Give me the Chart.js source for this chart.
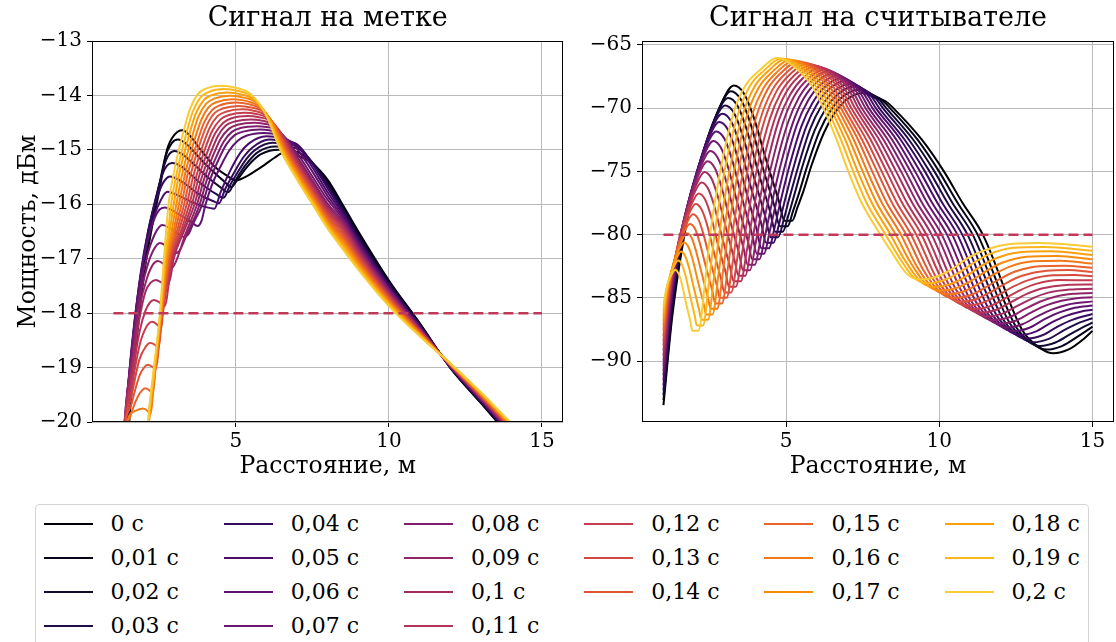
<!DOCTYPE html>
<html>
<head>
<meta charset="utf-8">
<script src="https://cdn.jsdelivr.net/npm/chart.js"></script>
<style>
html,body{margin:0;padding:0;background:#fff;width:1116px;height:642px;overflow:hidden;}
#tagChart{position:absolute;left:0;top:0;}
#readerChart{position:absolute;left:560px;top:0;}
#legend{position:absolute;left:35px;top:504px;width:1054px;height:170px;border:1px solid #d5d5d5;border-radius:4px;box-sizing:border-box;font-family:'DejaVu Serif',serif;font-size:22px;color:#000;}
.item{position:absolute;height:30px;display:flex;align-items:center;white-space:nowrap;}
.item .h{display:inline-block;width:49px;height:2px;}
.item .t{margin-left:18px;line-height:30px;}
</style>
</head>
<body>
<canvas id="tagChart" width="580" height="490"></canvas>
<canvas id="readerChart" width="556" height="490"></canvas>
<div id="legend"></div>
<script>
// ---------- data ----------
const timeLabels = ['0 с','0,01 с','0,02 с','0,03 с','0,04 с','0,05 с','0,06 с','0,07 с','0,08 с','0,09 с','0,1 с','0,11 с','0,12 с','0,13 с','0,14 с','0,15 с','0,16 с','0,17 с','0,18 с','0,19 с','0,2 с'];
const distanceTicks = [5, 10, 15];
const tagPowerTicks = [-20, -19, -18, -17, -16, -15, -14, -13];
const readerPowerTicks = [-90, -85, -80, -75, -70, -65];
const tagThreshold = -18;
const readerThreshold = -80;
const thresholdRange = [1, 15];

// tag signal (left), [distance m, power dBm] per time step
const tagPower = [
[[1,-26],[1.25,-23],[1.5,-20.15],[1.75,-18.55],[2,-17.3],[2.25,-16.45],[2.5,-15.75],[2.75,-15],[3,-14.72],[3.25,-14.64],[3.5,-14.74],[3.77,-14.94],[4.04,-15.13],[4.31,-15.31],[4.7,-15.47],[5,-15.56],[5.3,-15.5],[5.6,-15.4],[5.95,-15.27],[6.25,-15.15],[6.55,-15.06],[7,-15.1],[7.5,-15.25],[8,-15.55],[8.5,-16.02],[9,-16.5],[10,-17.4],[11,-18.18],[12,-19],[13,-19.65],[14,-20.3],[15,-20.95]],
[[1,-26],[1.2,-23.2],[1.45,-20.1],[1.7,-18.5],[1.95,-17.3],[2.2,-16.45],[2.45,-15.8],[2.7,-15.12],[2.9,-14.88],[3.11,-14.81],[3.4,-14.9],[3.7,-15.08],[4,-15.26],[4.3,-15.42],[4.6,-15.57],[4.85,-15.68],[5.05,-15.55],[5.3,-15.36],[5.55,-15.2],[5.82,-15.08],[6.4,-15],[7,-15.04],[7.5,-15.24],[8,-15.58],[8.5,-16.05],[9,-16.54],[10,-17.42],[11,-18.19],[12,-19],[13,-19.64],[14,-20.29],[15,-20.93]],
[[1,-26],[1.2,-23],[1.42,-20.1],[1.67,-18.5],[1.92,-17.3],[2.17,-16.45],[2.42,-15.82],[2.65,-15.3],[2.82,-15.08],[3,-15.02],[3.3,-15.1],[3.6,-15.25],[3.9,-15.41],[4.2,-15.56],[4.5,-15.69],[4.75,-15.78],[4.95,-15.6],[5.14,-15.42],[5.43,-15.2],[5.72,-15.04],[6.3,-14.94],[7,-14.97],[7.5,-15.23],[8,-15.62],[8.5,-16.08],[9,-16.57],[10,-17.45],[11,-18.2],[12,-18.99],[13,-19.63],[14,-20.27],[15,-20.91]],
[[1,-26],[1.2,-22.8],[1.4,-20.1],[1.65,-18.5],[1.9,-17.3],[2.15,-16.45],[2.4,-15.85],[2.6,-15.45],[2.75,-15.29],[2.92,-15.24],[3.2,-15.3],[3.5,-15.44],[3.8,-15.59],[4.1,-15.72],[4.35,-15.81],[4.6,-15.88],[4.8,-15.66],[5.05,-15.42],[5.34,-15.17],[5.63,-15],[6.2,-14.87],[6.7,-14.9],[7,-14.93],[7.5,-15.24],[8,-15.66],[8.5,-16.11],[9,-16.61],[10,-17.47],[11,-18.22],[12,-18.99],[13,-19.62],[14,-20.26],[15,-20.89]],
[[1,-26],[1.2,-22.7],[1.4,-20.05],[1.63,-18.5],[1.88,-17.3],[2.13,-16.5],[2.38,-15.95],[2.58,-15.65],[2.72,-15.53],[2.85,-15.49],[3.1,-15.54],[3.4,-15.65],[3.7,-15.78],[4,-15.88],[4.25,-15.94],[4.45,-15.98],[4.65,-15.72],[4.96,-15.4],[5.24,-15.14],[5.53,-14.96],[6.1,-14.81],[6.6,-14.85],[7,-14.9],[7.5,-15.26],[8,-15.71],[8.5,-16.15],[9,-16.64],[10,-17.49],[11,-18.23],[12,-18.98],[13,-19.61],[14,-20.24],[15,-20.87]],
[[1,-26],[1.2,-22.6],[1.4,-20],[1.62,-18.55],[1.87,-17.4],[2.12,-16.65],[2.37,-16.15],[2.57,-15.9],[2.68,-15.8],[2.78,-15.77],[3.05,-15.82],[3.35,-15.9],[3.65,-15.98],[3.95,-16.04],[4.3,-16.08],[4.5,-15.78],[4.8,-15.4],[5.15,-15.05],[5.43,-14.88],[6,-14.75],[6.5,-14.79],[7,-14.92],[7.5,-15.32],[8,-15.78],[8.5,-16.19],[9,-16.68],[10,-17.52],[11,-18.24],[12,-18.98],[13,-19.6],[14,-20.23],[15,-20.85]],
[[1,-26],[1.2,-22.5],[1.38,-20.1],[1.6,-18.6],[1.85,-17.45],[2.1,-16.7],[2.35,-16.25],[2.5,-16.1],[2.68,-16.06],[2.95,-16.12],[3.25,-16.22],[3.55,-16.33],[3.75,-16.4],[3.88,-16.3],[4,-16.02],[4.215,-15.646],[4.5,-15.305],[4.78,-15.016],[5.06,-14.832],[5.34,-14.74],[5.9,-14.688],[6.4,-14.73],[6.75,-14.84],[7,-14.98],[7.5,-15.4],[8,-15.85],[8.5,-16.23],[9,-16.71],[10,-17.54],[11,-18.25],[12,-18.98],[13,-19.59],[14,-20.22],[15,-20.83]],
[[1,-26],[1.2,-22.4],[1.37,-20.1],[1.6,-18.7],[1.85,-17.6],[2.1,-16.95],[2.35,-16.55],[2.6,-16.38],[2.85,-16.44],[3.1,-16.54],[3.3,-16.6],[3.45,-16.55],[3.6,-16.36],[3.905,-16],[4.13,-15.59],[4.41,-15.21],[4.69,-14.9],[4.96,-14.73],[5.24,-14.665],[5.8,-14.626],[6.08,-14.64],[6.36,-14.68],[6.65,-14.8],[6.9,-15],[7,-15.06],[7.5,-15.49],[8,-15.92],[8.5,-16.27],[9,-16.75],[10,-17.56],[11,-18.26],[12,-18.97],[13,-19.58],[14,-20.2],[15,-20.81]],
[[1,-26],[1.2,-22.3],[1.36,-20.1],[1.6,-18.8],[1.85,-17.75],[2.1,-17.15],[2.3,-16.85],[2.52,-16.71],[2.77,-16.79],[3,-16.9],[3.15,-16.86],[3.4,-16.55],[3.82,-16],[4.04,-15.57],[4.32,-15.18],[4.6,-14.85],[4.87,-14.67],[5.15,-14.6],[5.7,-14.564],[6,-14.58],[6.3,-14.62],[6.6,-14.77],[6.87,-15],[7,-15.12],[7.5,-15.56],[8,-15.99],[8.5,-16.31],[9,-16.78],[10,-17.59],[11,-18.28],[12,-18.97],[13,-19.57],[14,-20.19],[15,-20.79]],
[[1,-26],[1.2,-22.2],[1.35,-20.1],[1.6,-18.9],[1.85,-17.9],[2.1,-17.35],[2.3,-17.1],[2.45,-17.04],[2.7,-17.12],[2.88,-17.18],[3.02,-17.08],[3.35,-16.55],[3.735,-16],[3.955,-15.55],[4.23,-15.14],[4.5,-14.8],[4.78,-14.61],[5.05,-14.54],[5.6,-14.5],[5.92,-14.52],[6.23,-14.57],[6.55,-14.74],[6.835,-15],[7,-15.165],[7.5,-15.6],[8,-16.03],[8.5,-16.35],[9,-16.82],[10,-17.61],[11,-18.29],[12,-18.96],[13,-19.56],[14,-20.17],[15,-20.77]],
[[1,-26],[1.2,-22.1],[1.35,-20.15],[1.6,-19.05],[1.85,-18.1],[2.05,-17.6],[2.2,-17.45],[2.38,-17.39],[2.6,-17.45],[2.76,-17.5],[2.86,-17.35],[2.97,-17],[3.3,-16.5],[3.65,-16],[3.87,-15.535],[4.14,-15.11],[4.41,-14.75],[4.68,-14.55],[4.96,-14.48],[5.5,-14.44],[5.83,-14.46],[6.16,-14.52],[6.5,-14.71],[6.8,-15],[7,-15.2],[7.5,-15.64],[8,-16.07],[8.5,-16.39],[9,-16.85],[10,-17.64],[11,-18.3],[12,-18.96],[13,-19.55],[14,-20.16],[15,-20.75]],
[[1,-26],[1.2,-22],[1.34,-20.2],[1.6,-19.2],[1.85,-18.35],[2.05,-17.95],[2.2,-17.8],[2.32,-17.76],[2.5,-17.8],[2.67,-17.87],[2.92,-17],[3.25,-16.5],[3.565,-16],[3.78,-15.52],[4.05,-15.07],[4.32,-14.7],[4.59,-14.5],[4.86,-14.42],[5.4,-14.378],[5.75,-14.4],[6.1,-14.46],[6.45,-14.67],[6.765,-15],[7,-15.235],[7.5,-15.68],[8,-16.11],[8.5,-16.43],[9,-16.89],[10,-17.66],[11,-18.31],[12,-18.96],[13,-19.54],[14,-20.15],[15,-20.73]],
[[1,-26],[1.2,-21.9],[1.33,-20.25],[1.6,-19.35],[1.85,-18.6],[2.05,-18.28],[2.27,-18.16],[2.45,-18.22],[2.56,-18.27],[2.616,-18],[2.89,-17],[3.2,-16.5],[3.48,-16],[3.7,-15.5],[3.96,-15.035],[4.23,-14.65],[4.5,-14.44],[4.77,-14.36],[5.3,-14.316],[5.67,-14.34],[6.03,-14.41],[6.4,-14.64],[6.73,-15],[7,-15.27],[7.5,-15.71],[8,-16.15],[8.5,-16.47],[9,-16.92],[10,-17.68],[11,-18.32],[12,-18.95],[13,-19.53],[14,-20.13],[15,-20.71]],
[[1,-26],[1.2,-21.8],[1.33,-20.3],[1.6,-19.5],[1.85,-18.85],[2.05,-18.62],[2.2,-18.55],[2.35,-18.58],[2.47,-18.65],[2.604,-18],[2.86,-17],[3.13,-16.5],[3.395,-16],[3.61,-15.48],[3.87,-15],[4.14,-14.6],[4.4,-14.38],[4.67,-14.3],[5.2,-14.254],[5.58,-14.28],[5.96,-14.355],[6.35,-14.61],[6.695,-15],[7,-15.3],[7.5,-15.75],[8,-16.19],[8.5,-16.52],[9,-16.96],[10,-17.71],[11,-18.34],[12,-18.95],[13,-19.52],[14,-20.12],[15,-20.69]],
[[1,-26],[1.2,-21.7],[1.32,-20.35],[1.6,-19.65],[1.85,-19.15],[2,-19],[2.13,-18.95],[2.28,-18.99],[2.37,-19.03],[2.592,-18],[2.83,-17],[3.07,-16.5],[3.31,-16],[3.52,-15.46],[3.78,-14.96],[4.05,-14.55],[4.31,-14.32],[4.57,-14.24],[5.1,-14.192],[5.5,-14.22],[5.9,-14.3],[6.3,-14.58],[6.66,-15],[7,-15.34],[7.5,-15.79],[8,-16.23],[8.5,-16.57],[9,-16.99],[10,-17.73],[11,-18.35],[12,-18.94],[13,-19.51],[14,-20.1],[15,-20.67]],
[[1,-26],[1.2,-21.6],[1.32,-20.4],[1.55,-19.9],[1.8,-19.53],[2.05,-19.38],[2.2,-19.43],[2.28,-19.48],[2.38,-19],[2.58,-18],[2.8,-17],[3.01,-16.5],[3.225,-16],[3.43,-15.44],[3.7,-14.93],[3.96,-14.5],[4.22,-14.27],[4.48,-14.18],[5,-14.13],[5.42,-14.16],[5.83,-14.25],[6.25,-14.54],[6.625,-15],[7,-15.375],[7.5,-15.82],[8,-16.27],[8.5,-16.62],[9,-17.03],[10,-17.75],[11,-18.36],[12,-18.94],[13,-19.5],[14,-20.09],[15,-20.65]],
[[1,-26],[1.2,-21.6],[1.45,-20],[1.7,-19.8],[1.97,-19.75],[2.12,-19.8],[2.2,-19.86],[2.37,-19],[2.568,-18],[2.77,-17],[2.96,-16.5],[3.14,-16],[3.35,-15.42],[3.61,-14.89],[3.87,-14.45],[4.12,-14.21],[4.38,-14.12],[4.9,-14.068],[5.33,-14.1],[5.76,-14.2],[6.2,-14.51],[6.59,-15],[7,-15.41],[7.5,-15.86],[8,-16.31],[8.5,-16.66],[9,-17.06],[10,-17.78],[11,-18.37],[12,-18.94],[13,-19.49],[14,-20.08],[15,-20.63]],
[[1,-26],[1.3,-21.8],[1.6,-20.5],[1.9,-20.2],[2.1,-20.3],[2.16,-20],[2.36,-19],[2.556,-18],[2.74,-17],[2.9,-16.5],[3.055,-16],[3.26,-15.41],[3.52,-14.86],[3.77,-14.4],[4.03,-14.15],[4.29,-14.06],[4.8,-14.006],[5.25,-14.04],[5.7,-14.14],[6.15,-14.48],[6.555,-15],[7,-15.445],[7.5,-15.89],[8,-16.34],[8.5,-16.7],[9,-17.1],[10,-17.8],[11,-18.38],[12,-18.93],[13,-19.48],[14,-20.06],[15,-20.61]],
[[1,-26],[1.4,-22],[1.6,-20.8],[1.85,-20.55],[2.05,-20.6],[2.15,-20],[2.35,-19],[2.544,-18],[2.71,-17],[2.84,-16.5],[2.97,-16],[3.17,-15.39],[3.43,-14.82],[3.68,-14.35],[3.94,-14.09],[4.19,-14],[4.7,-13.944],[5.17,-13.98],[5.63,-14.09],[6.1,-14.45],[6.52,-15],[7,-15.48],[7.5,-15.93],[8,-16.38],[8.5,-16.74],[9,-17.13],[10,-17.82],[11,-18.4],[12,-18.93],[13,-19.47],[14,-20.05],[15,-20.59]],
[[1,-26],[1.5,-22],[1.8,-21],[2.03,-21],[2.14,-20],[2.34,-19],[2.532,-18],[2.68,-17],[2.79,-16.5],[2.885,-16],[3.09,-15.37],[3.34,-14.79],[3.59,-14.3],[3.84,-14.04],[4.1,-13.94],[4.6,-13.882],[5.08,-13.92],[5.56,-14.03],[6.05,-14.41],[6.485,-15],[7,-15.515],[7.5,-15.96],[8,-16.41],[8.5,-16.79],[9,-17.17],[10,-17.85],[11,-18.41],[12,-18.92],[13,-19.46],[14,-20.03],[15,-20.57]],
[[1,-26],[1.75,-21.6],[2,-21.2],[2.13,-20],[2.3,-19.1],[2.52,-18],[2.65,-17],[2.8,-16],[3,-15.35],[3.25,-14.75],[3.5,-14.25],[3.75,-13.98],[4,-13.88],[4.5,-13.82],[5,-13.86],[5.49,-13.98],[6,-14.38],[6.45,-15],[7,-15.55],[7.5,-16],[8,-16.45],[8.5,-16.83],[9,-17.2],[10,-17.87],[11,-18.42],[12,-18.92],[13,-19.45],[14,-20.02],[15,-20.55]]
];

// reader signal (right), [distance m, power dBm] per time step
const readerPower = [
[[1,-93.46],[1.29,-86.39],[1.6,-81.19],[1.93,-77],[2.36,-73.27],[2.79,-70.19],[3.3,-68.22],[3.63,-68.86],[3.94,-70.7],[4.35,-74.09],[4.76,-77.3],[4.95,-78.9],[5.2,-78.9],[5.38,-77.79],[5.55,-76.68],[5.84,-74.46],[6.24,-71.93],[6.58,-70.42],[6.99,-69.3],[7.5,-68.8],[7.9,-69.18],[8.25,-69.46],[8.5,-70],[9.43,-72.5],[10.15,-75],[10.76,-77.5],[11.42,-80],[12.72,-87.6],[13.27,-88.92],[13.72,-89.37],[14.22,-89.07],[14.72,-88.22],[15,-87.6]],
[[1,-93.07],[1.28,-86.24],[1.57,-81.21],[1.89,-77.16],[2.3,-73.55],[2.72,-70.57],[3.2,-68.67],[3.52,-69.31],[3.83,-71.15],[4.22,-74.54],[4.62,-77.74],[4.8,-79.34],[5.05,-79.34],[5.23,-78.12],[5.4,-76.9],[5.7,-74.51],[6.09,-71.84],[6.44,-70.24],[6.85,-69.09],[7.36,-68.55],[7.76,-68.93],[8.13,-69.35],[8.39,-70],[9.29,-72.5],[9.99,-75],[10.6,-77.5],[11.25,-80],[12.5,-87.28],[13.05,-88.63],[13.5,-89.08],[14,-88.8],[14.5,-88.08],[15,-87.27]],
[[1,-92.68],[1.27,-86.11],[1.55,-81.27],[1.85,-77.37],[2.24,-73.9],[2.64,-71.03],[3.11,-69.2],[3.42,-69.83],[3.71,-71.65],[4.09,-75.01],[4.48,-78.18],[4.65,-79.77],[4.89,-79.77],[5.08,-78.44],[5.24,-77.1],[5.54,-74.55],[5.94,-71.73],[6.29,-70.07],[6.71,-68.87],[7.22,-68.3],[7.62,-68.68],[8.01,-69.24],[8.27,-70],[9.15,-72.5],[9.84,-75],[10.43,-77.5],[11.09,-80],[12.29,-86.96],[12.84,-88.34],[13.29,-88.79],[13.79,-88.52],[14.29,-87.84],[14.79,-87.19],[15,-86.94]],
[[1,-92.29],[1.25,-85.99],[1.52,-81.36],[1.81,-77.63],[2.19,-74.3],[2.57,-71.55],[3.01,-69.8],[3.31,-70.42],[3.59,-72.21],[3.96,-75.52],[4.33,-78.64],[4.5,-80.2],[4.74,-80.2],[4.93,-78.76],[5.09,-77.29],[5.4,-74.59],[5.79,-71.63],[6.14,-69.9],[6.57,-68.67],[7.08,-68.07],[7.48,-68.45],[7.89,-69.13],[8.16,-70],[9.01,-72.5],[9.68,-75],[10.27,-77.5],[10.92,-80],[12.07,-86.64],[12.62,-88.05],[13.07,-88.5],[13.57,-88.23],[14.07,-87.55],[14.57,-86.95],[15,-86.6]],
[[1,-91.9],[1.24,-85.89],[1.5,-81.48],[1.77,-77.91],[2.13,-74.74],[2.49,-72.12],[2.92,-70.45],[3.21,-71.06],[3.48,-72.81],[3.83,-76.05],[4.19,-79.11],[4.35,-80.64],[4.59,-80.64],[4.78,-79.08],[4.94,-77.49],[5.25,-74.63],[5.65,-71.53],[6,-69.74],[6.42,-68.48],[6.94,-67.85],[7.34,-68.23],[7.77,-69.03],[8.04,-70],[8.87,-72.5],[9.53,-75],[10.1,-77.5],[10.75,-80],[11.86,-86.32],[12.41,-87.76],[12.86,-88.21],[13.36,-87.95],[13.86,-87.26],[14.36,-86.71],[15,-86.27]],
[[1,-91.51],[1.23,-85.8],[1.47,-81.59],[1.74,-78.2],[2.07,-75.18],[2.42,-72.69],[2.82,-71.1],[3.1,-71.7],[3.36,-73.42],[3.7,-76.59],[4.04,-79.58],[4.2,-81.08],[4.44,-81.08],[4.63,-79.4],[4.79,-77.69],[5.1,-74.66],[5.5,-71.44],[5.86,-69.59],[6.28,-68.29],[6.8,-67.64],[7.2,-68.02],[7.65,-68.94],[7.93,-70],[8.74,-72.5],[9.37,-75],[9.94,-77.5],[10.59,-80],[11.64,-86],[12.19,-87.47],[12.64,-87.92],[13.14,-87.66],[13.64,-86.97],[14.14,-86.42],[14.64,-86.07],[15,-85.94]],
[[1,-91.12],[1.22,-85.72],[1.45,-81.75],[1.7,-78.55],[2.02,-75.7],[2.34,-73.34],[2.72,-71.84],[2.99,-72.42],[3.24,-74.08],[3.57,-77.16],[3.9,-80.06],[4.05,-81.51],[4.28,-81.51],[4.47,-79.71],[4.64,-77.87],[4.95,-74.69],[5.35,-71.34],[5.71,-69.44],[6.14,-68.12],[6.66,-67.44],[7.06,-67.82],[7.53,-68.85],[7.82,-70],[8.6,-72.5],[9.21,-75],[9.77,-77.5],[10.42,-80],[11.42,-85.68],[11.97,-87.17],[12.42,-87.62],[12.92,-87.37],[13.42,-86.7],[13.92,-86.14],[14.42,-85.77],[15,-85.6]],
[[1,-90.73],[1.21,-85.65],[1.42,-81.92],[1.66,-78.91],[1.96,-76.23],[2.27,-74.01],[2.63,-72.6],[2.88,-73.16],[3.12,-74.77],[3.44,-77.74],[3.76,-80.55],[3.9,-81.95],[4.13,-81.95],[4.32,-80.03],[4.49,-78.05],[4.8,-74.72],[5.21,-71.25],[5.56,-69.3],[5.99,-67.97],[6.52,-67.26],[6.92,-67.64],[7.41,-68.77],[7.7,-70],[8.46,-72.5],[9.06,-75],[9.61,-77.5],[10.25,-80],[11.21,-85.36],[11.76,-86.88],[12.21,-87.33],[12.71,-87.08],[13.21,-86.43],[13.71,-85.88],[14.21,-85.51],[15,-85.27]],
[[1,-90.34],[1.19,-85.59],[1.4,-82.1],[1.62,-79.29],[1.9,-76.78],[2.2,-74.71],[2.53,-73.39],[2.77,-73.93],[3.01,-75.48],[3.31,-78.33],[3.61,-81.03],[3.75,-82.38],[3.98,-82.38],[4.17,-80.33],[4.34,-78.22],[4.65,-74.73],[5.06,-71.16],[5.42,-69.17],[5.85,-67.82],[6.38,-67.09],[6.78,-67.47],[7.29,-68.69],[7.59,-70],[8.32,-72.5],[8.9,-75],[9.44,-77.5],[10.08,-80],[10.99,-85.04],[11.54,-86.59],[11.99,-87.04],[12.49,-86.8],[12.99,-86.16],[13.49,-85.59],[13.99,-85.22],[14.49,-85.02],[15,-84.94]],
[[1,-89.95],[1.18,-85.54],[1.37,-82.3],[1.58,-79.68],[1.85,-77.35],[2.12,-75.43],[2.44,-74.2],[2.67,-74.72],[2.89,-76.2],[3.18,-78.94],[3.47,-81.53],[3.6,-82.82],[3.82,-82.82],[4.01,-80.64],[4.18,-78.4],[4.5,-74.76],[4.91,-71.08],[5.27,-69.05],[5.71,-67.7],[6.24,-66.94],[6.64,-67.32],[7.16,-68.62],[7.47,-70],[8.18,-72.5],[8.75,-75],[9.28,-77.5],[9.92,-80],[10.78,-84.72],[11.33,-86.3],[11.78,-86.75],[12.28,-86.52],[12.78,-85.89],[13.28,-85.3],[13.78,-84.9],[14.38,-84.67],[15,-84.61]],
[[1,-89.56],[1.17,-85.49],[1.35,-82.5],[1.54,-80.09],[1.79,-77.94],[2.05,-76.17],[2.34,-75.04],[2.56,-75.53],[2.77,-76.94],[3.05,-79.56],[3.32,-82.02],[3.45,-83.25],[3.67,-83.25],[3.86,-80.95],[4.04,-78.56],[4.35,-74.78],[4.76,-70.99],[5.13,-68.94],[5.57,-67.58],[6.1,-66.8],[6.5,-67.18],[7.05,-68.56],[7.36,-70],[8.04,-72.5],[8.59,-75],[9.12,-77.5],[9.75,-80],[10.56,-84.4],[11.11,-86.01],[11.56,-86.46],[12.06,-86.24],[12.56,-85.61],[13.06,-85.01],[13.56,-84.58],[14.26,-84.34],[15,-84.28]],
[[1,-89.17],[1.16,-85.45],[1.32,-82.71],[1.5,-80.5],[1.73,-78.53],[1.97,-76.91],[2.24,-75.87],[2.45,-76.34],[2.65,-77.68],[2.91,-80.17],[3.17,-82.52],[3.29,-83.69],[3.52,-83.69],[3.72,-81.26],[3.89,-78.73],[4.2,-74.8],[4.62,-70.92],[4.98,-68.84],[5.42,-67.48],[5.96,-66.68],[6.36,-67.06],[6.92,-68.51],[7.25,-70],[7.9,-72.5],[8.43,-75],[8.95,-77.5],[9.58,-80],[10.34,-84.08],[10.89,-85.72],[11.34,-86.17],[11.84,-85.95],[12.34,-85.33],[12.84,-84.7],[13.34,-84.25],[14.14,-83.97],[15,-83.94]],
[[1,-88.77],[1.14,-85.4],[1.3,-82.92],[1.46,-80.93],[1.68,-79.15],[1.9,-77.68],[2.15,-76.74],[2.35,-77.18],[2.54,-78.45],[2.78,-80.8],[3.03,-83.01],[3.14,-84.12],[3.36,-84.12],[3.56,-81.56],[3.73,-78.89],[4.05,-74.82],[4.47,-70.85],[4.84,-68.75],[5.28,-67.39],[5.82,-66.57],[6.22,-66.95],[6.8,-68.46],[7.13,-70],[7.76,-72.5],[8.28,-75],[8.79,-77.5],[9.42,-80],[10.13,-83.76],[10.68,-85.43],[11.13,-85.88],[11.63,-85.67],[12.13,-85.06],[12.63,-84.4],[13.13,-83.91],[13.93,-83.58],[15,-83.61]],
[[1,-88.38],[1.13,-85.36],[1.27,-83.13],[1.43,-81.34],[1.62,-79.74],[1.82,-78.42],[2.05,-77.58],[2.24,-78],[2.42,-79.2],[2.65,-81.42],[2.88,-83.51],[2.99,-84.56],[3.21,-84.56],[3.41,-81.86],[3.58,-79.05],[3.9,-74.84],[4.32,-70.78],[4.69,-68.66],[5.14,-67.31],[5.68,-66.47],[6.08,-66.85],[6.69,-68.41],[7.02,-70],[7.62,-72.5],[8.12,-75],[8.62,-77.5],[9.25,-80],[9.91,-83.44],[10.46,-85.14],[10.91,-85.59],[11.41,-85.38],[11.91,-84.79],[12.41,-84.11],[12.91,-83.59],[13.71,-83.21],[14.41,-83.19],[15,-83.28]],
[[1,-87.99],[1.12,-85.3],[1.25,-83.32],[1.39,-81.73],[1.56,-80.31],[1.75,-79.14],[1.96,-78.39],[2.14,-78.79],[2.3,-79.92],[2.52,-82.02],[2.74,-84],[2.84,-84.99],[3.06,-84.99],[3.26,-82.16],[3.43,-79.21],[3.75,-74.85],[4.18,-70.72],[4.55,-68.58],[4.99,-67.25],[5.54,-66.39],[5.94,-66.77],[6.56,-68.38],[6.9,-70],[7.48,-72.5],[7.97,-75],[8.46,-77.5],[9.08,-80],[9.7,-83.12],[10.25,-84.85],[10.7,-85.3],[11.2,-85.1],[11.7,-84.5],[12.2,-83.8],[12.7,-83.25],[13.5,-82.85],[14.2,-82.8],[15,-82.95]],
[[1,-87.6],[1.11,-85.23],[1.22,-83.49],[1.35,-82.09],[1.51,-80.84],[1.67,-79.81],[1.86,-79.15],[2.03,-79.53],[2.18,-80.61],[2.39,-82.6],[2.6,-84.49],[2.69,-85.43],[2.91,-85.43],[3.11,-82.47],[3.28,-79.36],[3.61,-74.87],[4.03,-70.66],[4.4,-68.51],[4.85,-67.19],[5.4,-66.31],[5.8,-66.69],[6.44,-68.34],[6.79,-70],[7.35,-72.5],[7.81,-75],[8.29,-77.5],[8.92,-80],[9.48,-82.8],[10.03,-84.56],[10.48,-85.01],[10.98,-84.81],[11.48,-84.21],[11.98,-83.49],[12.48,-82.91],[13.28,-82.49],[14.08,-82.45],[15,-82.62]],
[[1,-87.21],[1.1,-85.16],[1.2,-83.65],[1.31,-82.43],[1.45,-81.35],[1.6,-80.45],[1.76,-79.88],[1.92,-80.24],[2.06,-81.27],[2.26,-83.17],[2.45,-84.96],[2.54,-85.86],[2.75,-85.86],[2.95,-82.76],[3.13,-79.5],[3.45,-74.87],[3.88,-70.6],[4.26,-68.44],[4.71,-67.14],[5.26,-66.24],[5.66,-66.62],[6.33,-68.31],[6.68,-70],[7.21,-72.5],[7.65,-75],[8.13,-77.5],[8.75,-80],[9.26,-82.48],[9.81,-84.26],[10.26,-84.71],[10.76,-84.51],[11.26,-83.91],[11.76,-83.16],[12.26,-82.56],[13.06,-82.11],[13.96,-82.06],[15,-82.28]],
[[1,-86.82],[1.08,-85.08],[1.17,-83.81],[1.27,-82.78],[1.39,-81.86],[1.52,-81.1],[1.67,-80.62],[1.81,-80.96],[1.95,-81.94],[2.13,-83.74],[2.31,-85.45],[2.39,-86.3],[2.6,-86.3],[2.8,-83.06],[2.98,-79.65],[3.31,-74.88],[3.73,-70.54],[4.11,-68.37],[4.57,-67.1],[5.12,-66.18],[5.52,-66.56],[6.2,-68.28],[6.56,-70],[7.07,-72.5],[7.5,-75],[7.96,-77.5],[8.58,-80],[9.05,-82.16],[9.6,-83.97],[10.05,-84.42],[10.55,-84.22],[11.05,-83.64],[11.55,-82.84],[12.05,-82.22],[12.85,-81.74],[13.85,-81.68],[15,-81.95]],
[[1,-86.43],[1.07,-85],[1.15,-83.95],[1.23,-83.1],[1.34,-82.35],[1.45,-81.73],[1.57,-81.33],[1.7,-81.65],[1.83,-82.58],[2,-84.3],[2.16,-85.92],[2.24,-86.73],[2.45,-86.73],[2.65,-83.35],[2.83,-79.79],[3.16,-74.88],[3.59,-70.48],[3.97,-68.31],[4.42,-67.07],[4.98,-66.13],[5.38,-66.51],[6.08,-68.26],[6.45,-70],[6.93,-72.5],[7.34,-75],[7.8,-77.5],[8.41,-80],[8.83,-81.84],[9.38,-83.68],[9.83,-84.13],[10.33,-83.93],[10.83,-83.35],[11.33,-82.53],[11.83,-81.88],[12.63,-81.38],[13.63,-81.31],[15,-81.61]],
[[1,-86.04],[1.06,-84.92],[1.12,-84.1],[1.19,-83.43],[1.28,-82.84],[1.37,-82.35],[1.48,-82.04],[1.6,-82.35],[1.72,-83.23],[1.87,-84.86],[2.02,-86.4],[2.09,-87.17],[2.29,-87.17],[2.49,-83.65],[2.67,-79.93],[3,-74.89],[3.44,-70.42],[3.82,-68.26],[4.28,-67.04],[4.84,-66.09],[5.24,-66.47],[5.96,-68.24],[6.33,-70],[6.79,-72.5],[7.19,-75],[7.63,-77.5],[8.25,-80],[8.62,-81.52],[9.17,-83.39],[9.62,-83.84],[10.12,-83.62],[10.62,-83.04],[11.12,-82.22],[11.62,-81.56],[12.42,-81.04],[13.42,-80.97],[15,-81.28]],
[[1,-85.65],[1.05,-84.84],[1.1,-84.25],[1.15,-83.77],[1.22,-83.35],[1.3,-82.99],[1.38,-82.77],[1.49,-83.06],[1.6,-83.89],[1.74,-85.43],[1.88,-86.88],[1.94,-87.6],[2.14,-87.6],[2.35,-83.94],[2.52,-80.06],[2.86,-74.89],[3.29,-70.36],[3.68,-68.2],[4.14,-67.02],[4.7,-66.05],[5.1,-66.43],[5.84,-68.22],[6.22,-70],[6.65,-72.5],[7.03,-75],[7.47,-77.5],[8.08,-80],[8.4,-81.2],[8.95,-83.1],[9.4,-83.55],[9.9,-83.33],[10.4,-82.75],[10.9,-81.9],[11.4,-81.3],[12.2,-80.77],[13.2,-80.65],[14.2,-80.77],[15,-80.95]]
];

// ---------- styles ----------
const seriesColors = ['#000004','#050418','#120a31','#210b4a','#350b5e','#4a0c6a','#5c126e','#6d186e','#7f1e6c','#912568','#a32c61','#b43458','#c43c4e','#d24843','#e05537','#e9632b','#f37819','#f88a0c','#fb9f0a','#fbb61c','#f8cc36'];
const thresholdColor = '#c0385a';
const FONT = "'DejaVu Serif', serif";
Chart.defaults.font.family = FONT;
Chart.defaults.color = '#000';

const framePlugin = {
  id: 'frame',
  afterDatasetsDraw(chart) {
    const {ctx, chartArea: a} = chart;
    const l = Math.round(a.left), t = Math.round(a.top), r = Math.round(a.right), b = Math.round(a.bottom);
    ctx.save();
    ctx.strokeStyle = '#000';
    ctx.lineWidth = 1;
    ctx.strokeRect(l + 0.5, t + 0.5, r - l - 1, b - t - 1);
    ctx.restore();
  }
};

function minusLabel(v) { return v < 0 ? '\u2212' + Math.abs(v) : String(v); }

function buildChart(id, series, threshold, yMin, yMax, yTicks, titleText, yTitle, yWidth, padRight) {
  const datasets = series.map((pts, k) => ({
    label: timeLabels[k],
    data: pts.map(p => ({x: p[0], y: p[1]})),
    borderColor: seriesColors[k],
    borderWidth: 2,
    pointRadius: 0,
    fill: false,
    cubicInterpolationMode: 'monotone',
    clip: 0,
    order: series.length - k
  }));
  datasets.push({
    label: 'threshold',
    data: thresholdRange.map(x => ({x: x, y: threshold})),
    borderColor: thresholdColor,
    borderWidth: 2.5,
    borderDash: [10, 5],
    pointRadius: 0,
    fill: false,
    clip: 0,
    order: 0
  });
  const gridOpts = {color: '#b9b9b9', lineWidth: 1, tickLength: 5, tickColor: '#000', tickWidth: 1};
  return new Chart(document.getElementById(id), {
    type: 'line',
    data: {datasets},
    options: {
      responsive: false,
      animation: false,
      devicePixelRatio: 1,
      events: [],
      layout: {padding: {left: 0, right: padRight, top: 0, bottom: 0}},
      elements: {line: {capBezierPoints: false}},
      plugins: {
        legend: {display: false},
        tooltip: {enabled: false},
        title: {display: true, text: titleText, fullSize: false, color: '#000',
                font: {family: FONT, size: 27, weight: 'normal'}, padding: {top: 3, bottom: 5.6}}
      },
      scales: {
        x: {
          type: 'linear', min: 0.3, max: 15.7,
          afterBuildTicks: s => { s.ticks = distanceTicks.map(v => ({value: v})); },
          afterFit: s => { s.height = 68; },
          ticks: {font: {size: 20}, color: '#000', padding: 3, maxRotation: 0, autoSkip: false},
          grid: gridOpts,
          border: {display: false},
          title: {display: true, text: 'Расстояние, м', color: '#000', font: {size: 23.5}, padding: {top: 0, bottom: 9}}
        },
        y: {
          type: 'linear', min: yMin, max: yMax,
          afterBuildTicks: s => { s.ticks = yTicks.map(v => ({value: v})); },
          afterFit: s => { s.width = yWidth; },
          ticks: {font: {size: 20}, color: '#000', padding: 5, autoSkip: false, callback: v => minusLabel(v)},
          grid: gridOpts,
          border: {display: false},
          title: {display: !!yTitle, text: yTitle || '', color: '#000', font: {size: 23.5}, padding: {top: 15, bottom: 0}}
        }
      }
    },
    plugins: [framePlugin]
  });
}

buildChart('tagChart', tagPower, tagThreshold, -20, -13, tagPowerTicks, 'Сигнал на метке', 'Мощность, дБм', 92, 16.6);
buildChart('readerChart', readerPower, readerThreshold, -94.8, -64.7, readerPowerTicks, 'Сигнал на считывателе', '', 82, 2);

// ---------- legend (6 columns, column-major) ----------
const legend = document.getElementById('legend');
timeLabels.forEach((lab, k) => {
  let col, row;
  if (k < 12) { col = Math.floor(k / 4); row = k % 4; }
  else { col = 3 + Math.floor((k - 12) / 3); row = (k - 12) % 3; }
  const item = document.createElement('div');
  item.className = 'item';
  item.style.left = (7.6 + col * 180.2) + 'px';
  item.style.top = (18.5 + row * 34 - 15) + 'px';
  const h = document.createElement('span');
  h.className = 'h';
  h.style.background = seriesColors[k];
  const t = document.createElement('span');
  t.className = 't';
  t.textContent = lab;
  item.appendChild(h);
  item.appendChild(t);
  legend.appendChild(item);
});
</script>
</body>
</html>
